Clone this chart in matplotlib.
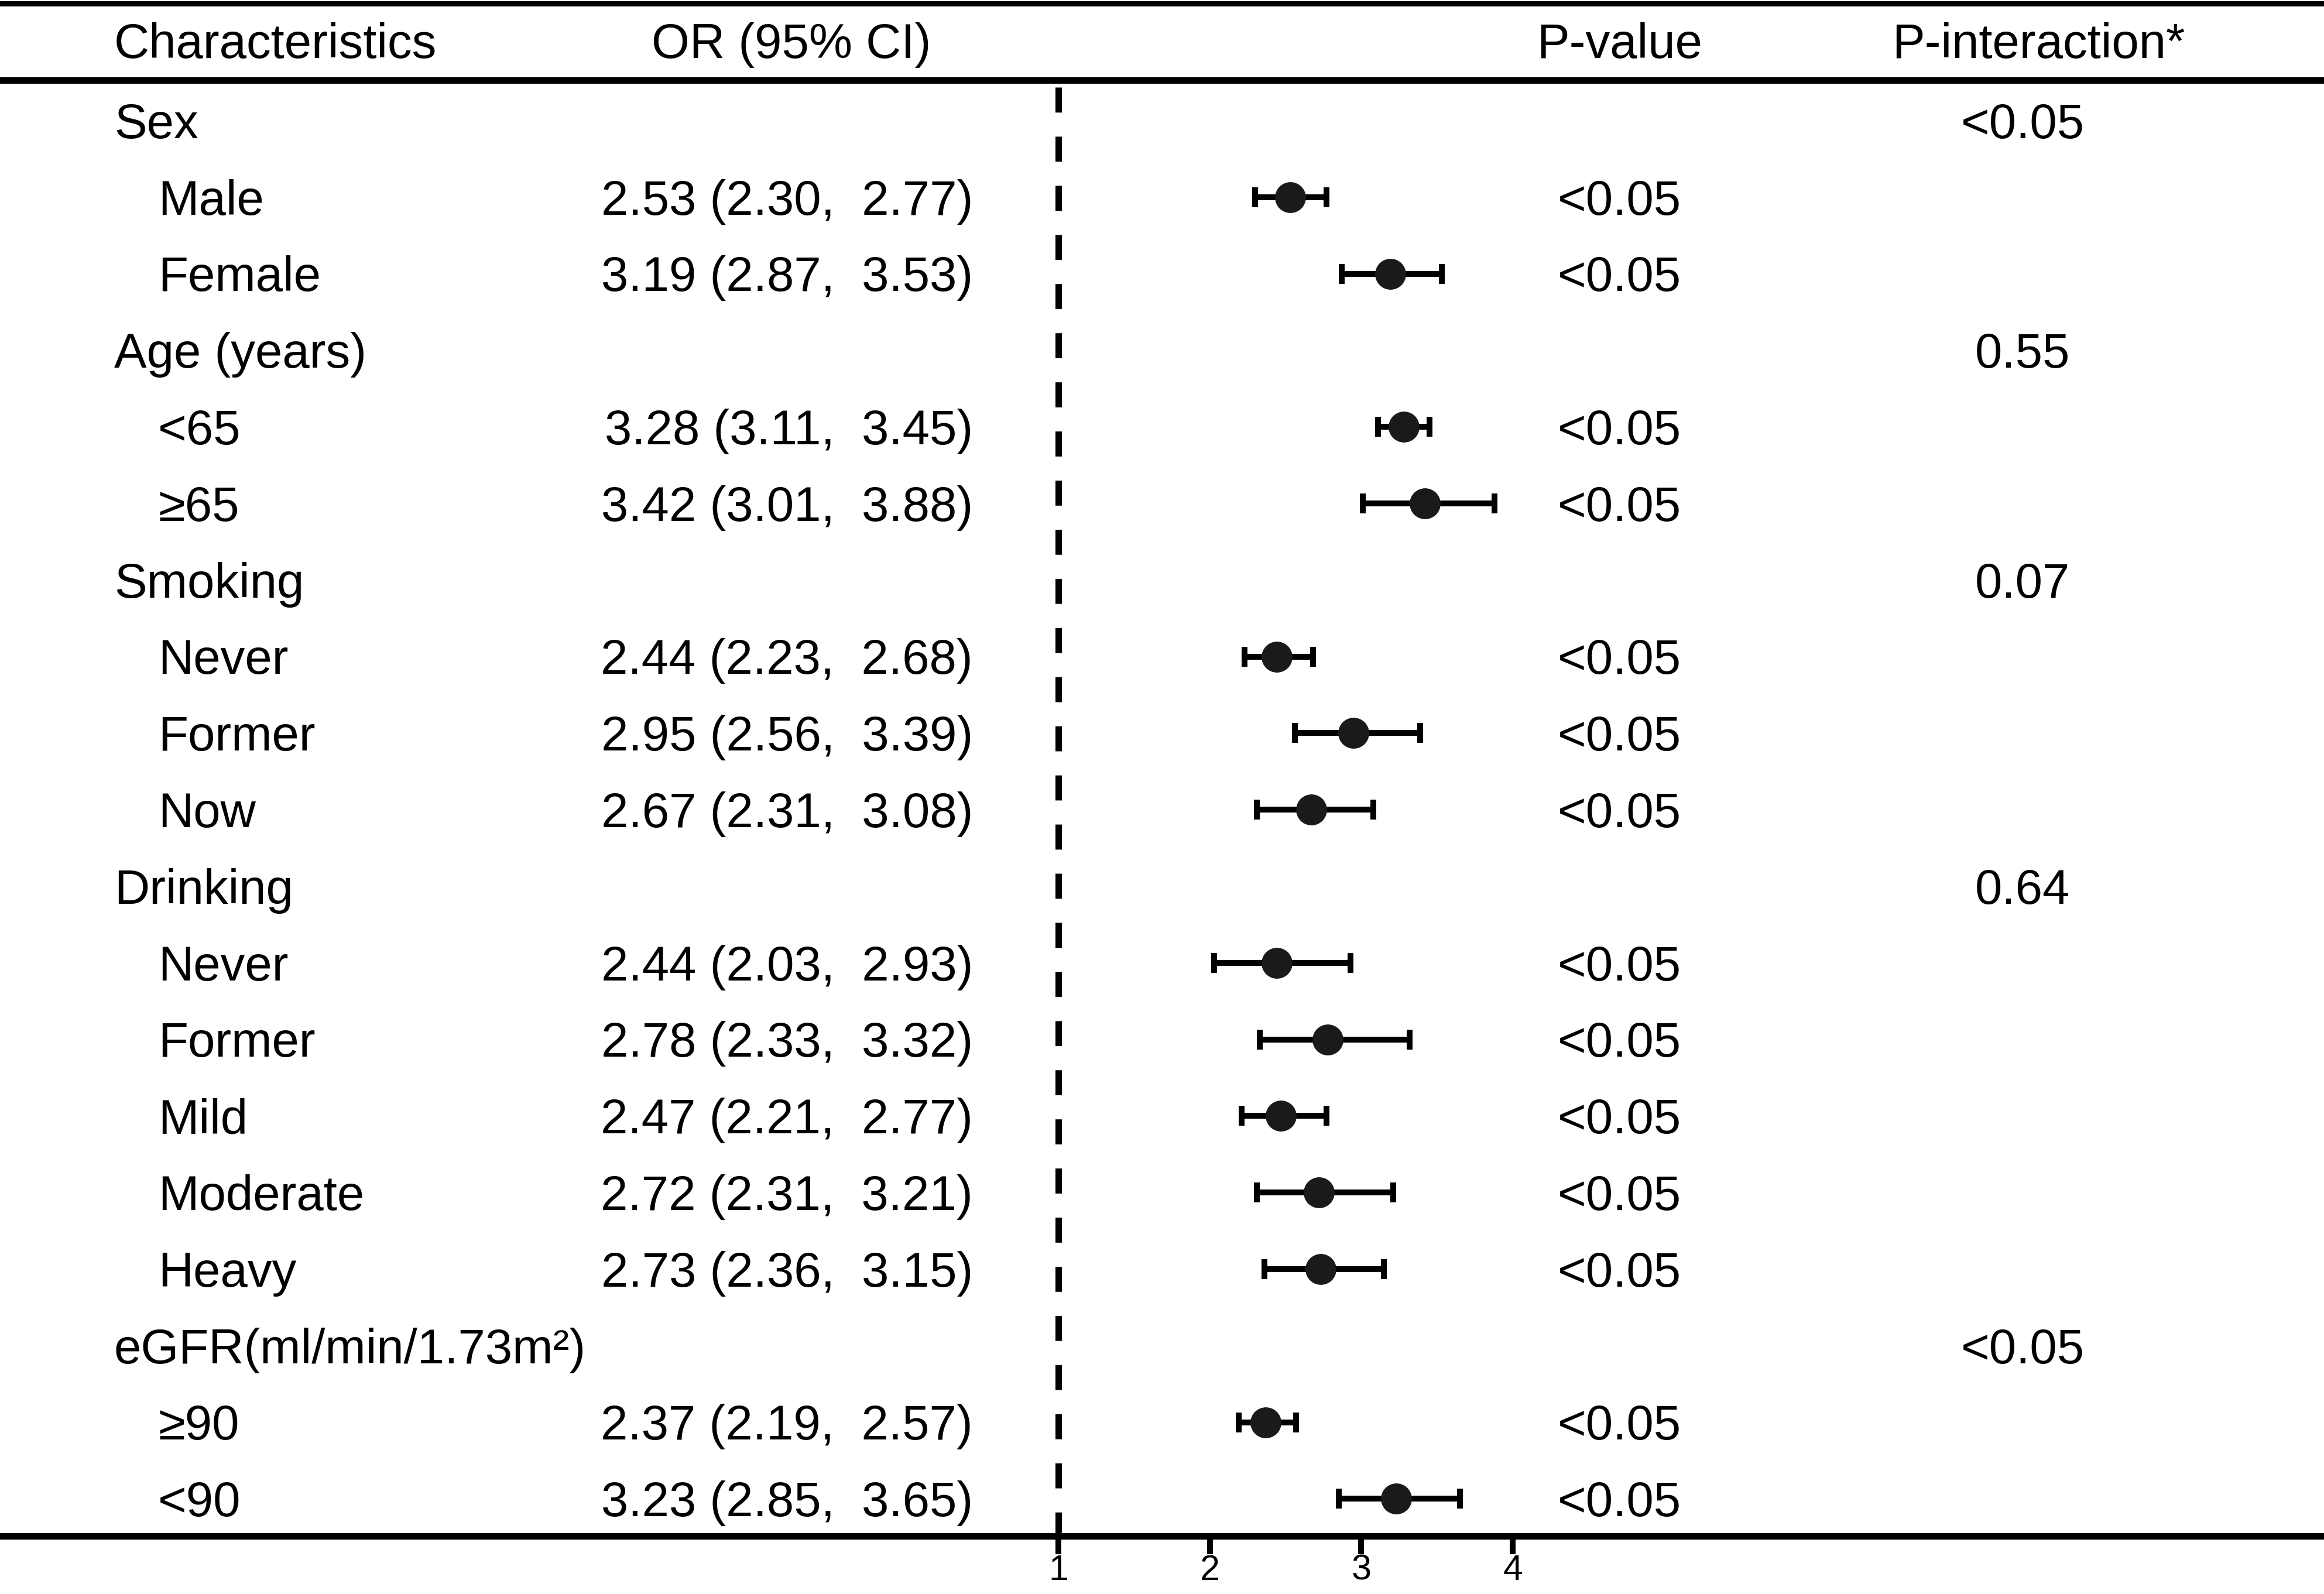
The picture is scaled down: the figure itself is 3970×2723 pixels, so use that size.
import matplotlib
matplotlib.use("Agg")
import matplotlib.pyplot as plt
from matplotlib import transforms

plt.rcParams['font.family'] = ['Liberation Sans', 'DejaVu Sans']

# ---- data ----
groups = ["Sex", "Age (years)", "Smoking", "Drinking", "eGFR(ml/min/1.73m\u00b2)"]
p_interaction = ["<0.05", "0.55", "0.07", "0.64", "<0.05"]

sub_labels = ["Male", "Female", "<65", "\u226565", "Never", "Former", "Now",
              "Never", "Former", "Mild", "Moderate", "Heavy", "\u226590", "<90"]
sub_group = [0, 0, 1, 1, 2, 2, 2, 3, 3, 3, 3, 3, 4, 4]
or_est = [2.53, 3.19, 3.28, 3.42, 2.44, 2.95, 2.67, 2.44, 2.78, 2.47, 2.72, 2.73, 2.37, 3.23]
ci_low = [2.30, 2.87, 3.11, 3.01, 2.23, 2.56, 2.31, 2.03, 2.33, 2.21, 2.31, 2.36, 2.19, 2.85]
ci_high = [2.77, 3.53, 3.45, 3.88, 2.68, 3.39, 3.08, 2.93, 3.32, 2.77, 3.21, 3.15, 2.57, 3.65]
p_value = ["<0.05"] * 14
x_ticks = [1, 2, 3, 4]

# ---- layout (pixels of the 3970x2723 canvas) ----
W, H = 3970, 2723
ROW0, ROWH = 206, 130.8
BOTTOM = 2624


def ry(px):
    return (px - ROW0) / ROWH


def fx(px):
    return px / W


# row index for each group header and subgroup
group_rows, sub_rows = [], []
r = 0
for g in range(len(groups)):
    group_rows.append(r)
    r += 1
    for i, sg in enumerate(sub_group):
        if sg == g:
            sub_rows.append(r)
            r += 1

fig = plt.figure(figsize=(W / 100, H / 100), dpi=100)
ax = fig.add_axes([0, (H - BOTTOM) / H, 1, BOTTOM / H])
ppu = 258.7  # pixels per OR unit
ax.set_xlim(1 - 1808 / ppu, 1 + (W - 1808) / ppu)
ax.set_ylim(ry(BOTTOM), ry(0))

for s in ["top", "left", "right"]:
    ax.spines[s].set_visible(False)
ax.spines["bottom"].set_linewidth(8)
ax.set_yticks([])
ax.set_xticks(x_ticks)
ax.set_xticklabels([str(t) for t in x_ticks])
ax.tick_params(axis="x", direction="out", length=22, width=7.2, pad=0, labelsize=44)

# header rules
ax.axhline(ry(6), color="black", lw=6.5, clip_on=False)
ax.axhline(ry(137), color="black", lw=8, clip_on=False)

# reference line at OR = 1
ax.plot([1, 1], [ry(149), ry(BOTTOM)], color="black", lw=7.9,
        linestyle=(0, (3.9, 3.75)), solid_capstyle="butt")

# estimates with confidence intervals
xerr = [[e - lo for e, lo in zip(or_est, ci_low)],
        [hi - e for e, hi in zip(or_est, ci_high)]]
ax.errorbar(or_est, sub_rows, xerr=xerr, fmt="none", ecolor="black",
            elinewidth=7.2, capsize=12, capthick=7.2, zorder=3)
ax.plot(or_est, sub_rows, "o", color="#1a1a1a", markersize=37, zorder=4)

# text columns
tr = transforms.blended_transform_factory(fig.transFigure, ax.transData)
fs = 60
off = 0.228  # baseline offset below row centre
hy = ry(99)
ax.text(fx(195), hy, "Characteristics", transform=tr, fontsize=fs, va="baseline")
ax.text(fx(1352), hy, "OR (95% CI)", transform=tr, fontsize=fs, va="baseline", ha="center")
ax.text(fx(2767), hy, "P-value", transform=tr, fontsize=fs, va="baseline", ha="center")
ax.text(fx(3482), hy, "P-interaction*", transform=tr, fontsize=fs, va="baseline", ha="center")

for g, row in enumerate(group_rows):
    ax.text(fx(195), row + off, groups[g], transform=tr, fontsize=fs, va="baseline")
    ax.text(fx(3455), row + off, p_interaction[g], transform=tr, fontsize=fs,
            va="baseline", ha="center")

for i, row in enumerate(sub_rows):
    ax.text(fx(270), row + off, sub_labels[i], transform=tr, fontsize=fs, va="baseline")
    ax.text(fx(1662), row + off,
            f"{or_est[i]:.2f} ({ci_low[i]:.2f},  {ci_high[i]:.2f})",
            transform=tr, fontsize=fs, va="baseline", ha="right")
    ax.text(fx(2766), row + off, p_value[i], transform=tr, fontsize=fs,
            va="baseline", ha="center")

fig.savefig("out.png", dpi=100, facecolor="white")
